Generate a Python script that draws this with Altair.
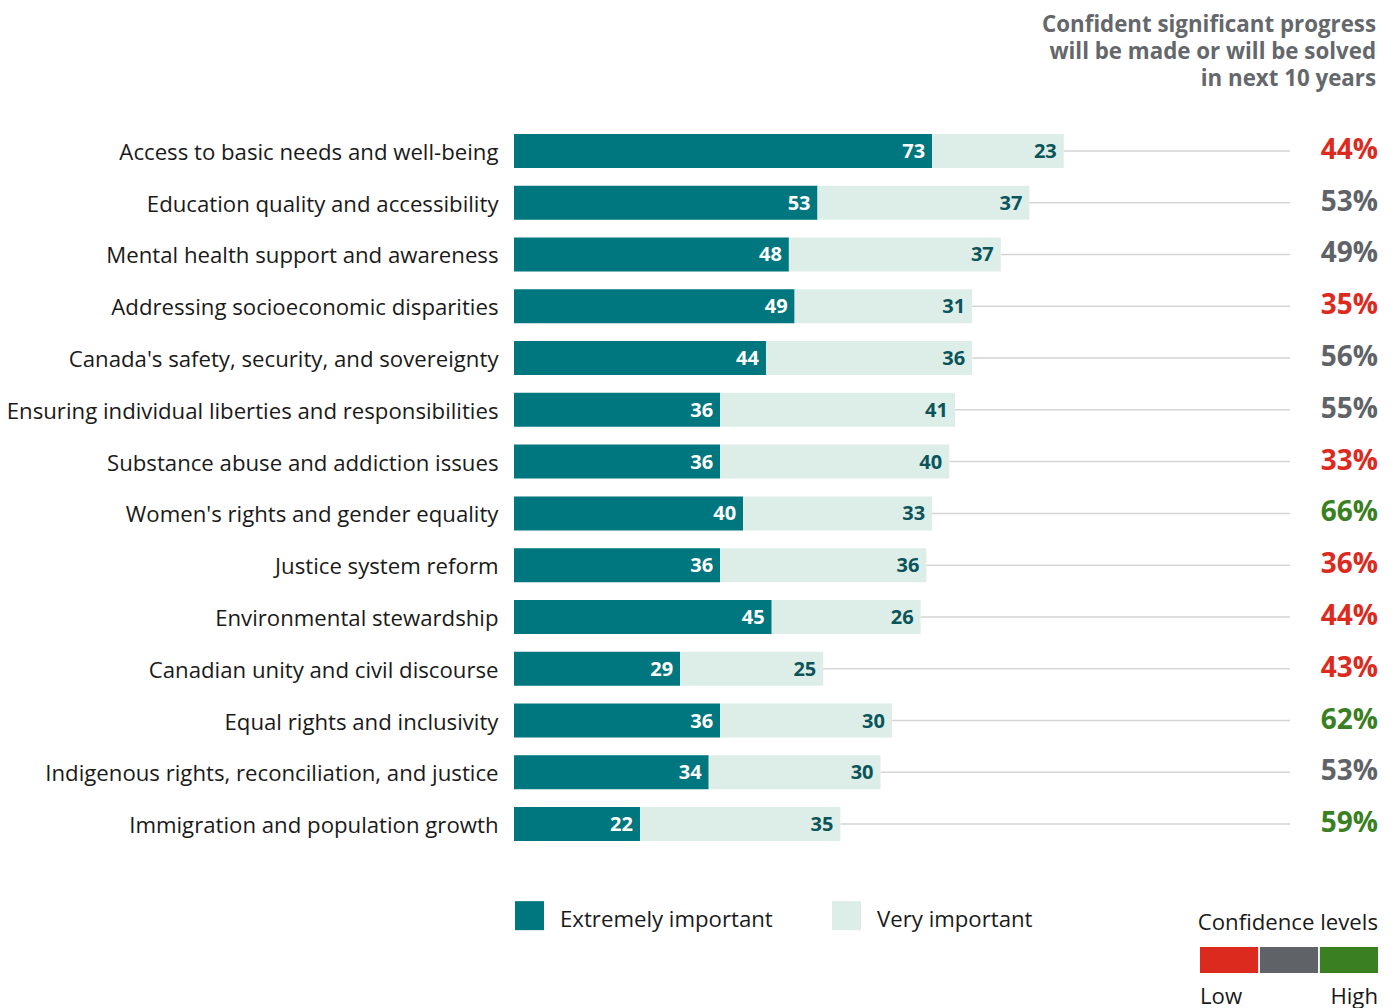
import altair as alt
import pandas as pd

categories = [
    "Access to basic needs and well-being",
    "Education quality and accessibility",
    "Mental health support and awareness",
    "Addressing socioeconomic disparities",
    "Canada's safety, security, and sovereignty",
    "Ensuring individual liberties and responsibilities",
    "Substance abuse and addiction issues",
    "Women's rights and gender equality",
    "Justice system reform",
    "Environmental stewardship",
    "Canadian unity and civil discourse",
    "Equal rights and inclusivity",
    "Indigenous rights, reconciliation, and justice",
    "Immigration and population growth",
]
extremely = [73, 53, 48, 49, 44, 36, 36, 40, 36, 45, 29, 36, 34, 22]
very = [23, 37, 37, 31, 36, 41, 40, 33, 36, 26, 25, 30, 30, 35]
confident = [44, 53, 49, 35, 56, 55, 33, 66, 36, 44, 43, 62, 53, 59]
confidence_level = ["Low", "Medium", "Medium", "Low", "Medium", "Medium", "Low",
                    "High", "Low", "Low", "Low", "High", "Medium", "High"]
series_names = ["Extremely important", "Very important"]
level_names = ["Low", "Medium", "High"]
title_lines = ["Confident significant progress",
               "will be made or will be solved",
               "in next 10 years"]

TEAL = "#00767F"
LIGHT = "#DDEEE8"
DARK_LABEL = "#0B5459"
LEVEL_COLORS = ["#DC2A1E", "#5F6368", "#3A7F22"]
TEXT = "#1A1A1A"
GREY_TITLE = "#64676B"
FONT = "Open Sans"
FS = 22.2

W, H = 776, 725
PAD_L, PAD_T = 514, 125
RIGHT_X = 864  # right edge of text columns, plot coordinates

rows = []
for c, e, v in zip(categories, extremely, very):
    rows.append({"category": c, "series": series_names[0], "value": e, "start": 0, "end": e})
    rows.append({"category": c, "series": series_names[1], "value": v, "start": e, "end": e + v})
bars_df = pd.DataFrame(rows)

summary_df = pd.DataFrame({
    "category": categories,
    "total": [e + v for e, v in zip(extremely, very)],
    "pct": [f"{p}%" for p in confident],
    "level": confidence_level,
})

levels_df = pd.DataFrame({"level": level_names})

x_scale = alt.Scale(domain=[0, 135.5], nice=False, zero=True)
y_scale = alt.Scale(domain=categories, paddingInner=0.343, paddingOuter=0.1715)
y_axis = alt.Axis(title=None, domain=False, ticks=False, labelFontSize=FS,
                  labelPadding=16, labelColor=TEXT, labelFont=FONT, labelLimit=800,
                  labelOffset=2)
fill_scale = alt.Scale(domain=level_names, range=LEVEL_COLORS)

Y = alt.Y("category:N", scale=y_scale, axis=y_axis, sort=categories)

rules = alt.Chart(summary_df).mark_rule(color="#D5D5D5", strokeWidth=1.5).encode(
    y=Y,
    x=alt.X("total:Q", scale=x_scale, axis=None),
    x2=alt.value(W),
)

bars = alt.Chart(bars_df).mark_bar().encode(
    y=Y,
    x=alt.X("start:Q", scale=x_scale, axis=None),
    x2="end:Q",
    color=alt.Color(
        "series:N",
        scale=alt.Scale(domain=series_names, range=[TEAL, LIGHT]),
        legend=alt.Legend(
            title=None, orient="none", legendX=1, legendY=780, direction="horizontal",
            symbolType="M-1,-1.276H1V0.724H-1Z", symbolSize=841, symbolStrokeWidth=0,
            labelFontSize=FS, labelFont=FONT, labelColor=TEXT, labelOffset=16,
            columnPadding=59, padding=0, labelLimit=400,
        ),
        sort=series_names,
    ),
)

value_labels = alt.Chart(bars_df).mark_text(
    align="right", baseline="middle", dx=-7, dy=1, fontSize=20, fontWeight="bold", font=FONT
).encode(
    y=Y,
    x=alt.X("end:Q", scale=x_scale, axis=None),
    text="value:Q",
    color=alt.condition(alt.datum.series == series_names[0], alt.value("white"), alt.value(DARK_LABEL)),
)

pct_labels = alt.Chart(summary_df).mark_text(
    align="right", baseline="middle", fontSize=28, fontWeight="bold", font=FONT
).encode(
    y=Y,
    x=alt.value(RIGHT_X),
    text="pct:N",
    fill=alt.Fill("level:N", scale=fill_scale, legend=None),
)

title_df = pd.DataFrame({"line": title_lines, "i": list(range(len(title_lines)))})
title = alt.Chart(title_df).transform_calculate(
    ypix="-100 + datum.i * 27"
).mark_text(
    align="right", baseline="middle", fontSize=22.3, fontWeight="bold", font=FONT, color=GREY_TITLE
).encode(
    x=alt.value(RIGHT_X - 2),
    y=alt.Y("ypix:Q", scale=None),
    text="line:N",
)

conf_rects = alt.Chart(levels_df).mark_rect().encode(
    x=alt.X("level:N", sort=level_names,
            scale=alt.Scale(domain=level_names, range=[686, RIGHT_X], paddingInner=0.03, paddingOuter=0),
            axis=None),
    y=alt.value(822),
    y2=alt.value(848),
    fill=alt.Fill("level:N", scale=fill_scale, legend=None),
)

conf_title = alt.Chart(pd.DataFrame({"t": ["Confidence levels"]})).mark_text(
    align="right", baseline="middle", fontSize=FS, font=FONT, color=TEXT
).encode(x=alt.value(RIGHT_X), y=alt.value(798), text="t:N")

conf_low = alt.Chart(pd.DataFrame({"t": ["Low"]})).mark_text(
    align="left", baseline="middle", fontSize=FS, font=FONT, color=TEXT
).encode(x=alt.value(686), y=alt.value(872), text="t:N")

conf_high = alt.Chart(pd.DataFrame({"t": ["High"]})).mark_text(
    align="right", baseline="middle", fontSize=FS, font=FONT, color=TEXT
).encode(x=alt.value(RIGHT_X), y=alt.value(872), text="t:N")

chart = alt.layer(
    rules, bars, value_labels, pct_labels, title, conf_rects, conf_title, conf_low, conf_high
).resolve_scale(
    x="independent"
).properties(
    width=W, height=H,
    padding={"left": PAD_L, "top": PAD_T, "right": 1396 - PAD_L - W, "bottom": 1008 - PAD_T - H},
    autosize=alt.AutoSizeParams(type="none"),
).configure(
    font=FONT, background="white"
).configure_view(
    stroke="transparent", strokeWidth=0
)

chart.save("out.html", embed_options={"renderer": "svg", "actions": False})
